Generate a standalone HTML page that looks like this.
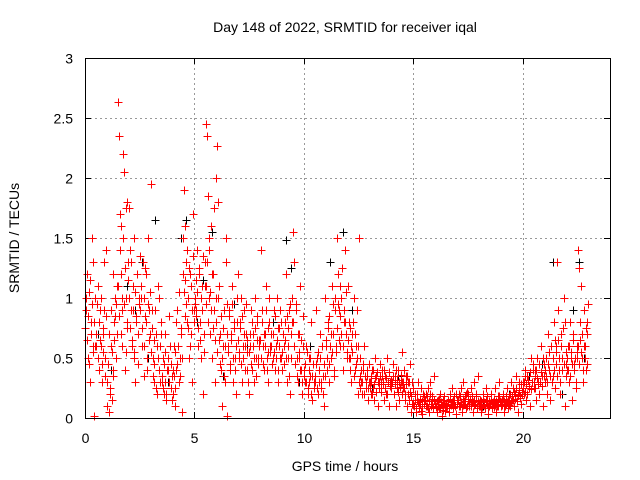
<!DOCTYPE html>
<html><head><meta charset="utf-8"><style>
html,body{margin:0;padding:0;background:#fff}
svg{display:block;font-family:"Liberation Sans",sans-serif}
</style></head><body>
<svg id="chart" width="640" height="480" viewBox="0 0 640 480">
<text x="345" y="32" font-size="14" text-anchor="middle">Day 148 of 2022, SRMTID for receiver iqal</text>
<text x="345" y="471" font-size="14" text-anchor="middle">GPS time / hours</text>
<text transform="translate(19,238) rotate(-90)" font-size="14" text-anchor="middle">SRMTID / TECUs</text>
<g id="grid" shape-rendering="crispEdges"></g>
<g id="ticks" shape-rendering="crispEdges"></g>
<g id="black" shape-rendering="crispEdges"></g>
<g id="red" shape-rendering="crispEdges"></g>
<rect x="85.5" y="58.5" width="525" height="360" fill="none" stroke="#000" stroke-width="1" shape-rendering="crispEdges"/>
</svg>
<script>
const xTicks=[0,5,10,15,20];
const yTicks=[0,0.5,1,1.5,2,2.5,3];
const yTickLabels=["0","0.5","1","1.5","2","2.5","3"];
const binStarts=[0,0.5,1,1.5,2,2.5,3,3.5,4,4.5,5,5.5,6,6.5,7,7.5,8,8.5,9,9.5,10,10.5,11,11.5,12,12.5,13,13.5,14,14.5,15,15.5,16,16.5,17,17.5,18,18.5,19,19.5,20,20.5,21,21.5,22,22.5];
const redValues=[
[.9,1.2,.5,1.05,.3,.8,1.5,.6,.02,1.0],
[.7,1.1,.4,.9,.6,.3,.75,1.3,.5,.85],
[.1,.05,.2,.6,.15,.35,.8,1.0,.5,.7],
[2.63,2.35,1.7,1.2,.9,.6,1.5,2.05,.4,1.0,1.8,.75,1.3],
[1.75,1.4,.9,.6,1.1,.5,.3,.8,1.2,.7,1.0],
[1.35,1.0,.6,.35,1.25,.8,.5,1.5,.9,.7],
[1.95,.9,.5,.3,.7,.2,1.1,.4,.6,.8],
[.3,.5,.2,.7,.15,.4,.85,.6,.25,.35],
[.2,.6,.1,.4,.9,.3,.5,.7,.05,1.5],
[1.9,1.6,1.3,.8,1.0,.5,1.2,.7,.3,1.7,.9],
[1.0,.9,1.4,.6,1.2,.8,.5,1.1,.2,.7,1.3],
[2.45,2.35,1.85,1.4,1.0,.7,1.6,.5,1.2,.9,.3,2.0],
[2.27,1.8,1.1,.7,.4,.1,.6,.9,.3,1.5,.02],
[.6,.9,.4,.7,1.1,.3,.8,.5,.2,1.2],
[.5,.8,1.0,.3,.6,.9,.4,.7,.55,.2],
[.6,.9,.4,.7,.3,1.0,.5,.8,.45,.65],
[1.4,.9,.6,.4,.7,1.1,.5,.3,.8,.55],
[.7,.5,.9,.4,.6,1.0,.3,.75,.5,.8],
[.4,.6,.8,1.2,.3,.5,.9,.2,.7,1.0],
[1.55,1.3,.9,.5,.3,.7,1.1,.4,.2,.6],
[.4,.3,.6,.2,.5,.35,.8,.15,.45,.25],
[.3,.9,.5,.2,.4,.7,.25,.6,.35,.1,1.0],
[.6,.4,.8,.3,.5,1.1,.7,.35,.9,.55],
[1.5,1.2,.9,.6,1.0,.4,.8,1.4,.7,.5],
[1.1,.8,.5,.3,.7,1.0,.4,.6,.9,.2],
[1.5,.5,.3,.2,.4,.6,.25,.35,.15,.45],
[.3,.2,.4,.25,.15,.5,.35,.1,.3,.45],
[.25,.4,.3,.15,.35,.2,.5,.1,.3,.28],
[.3,.45,.2,.35,.1,.25,.4,.15,.3,.55],
[.25,.4,.2,.35,.1,.3,.15,.45,.05,.25],
[.1,.2,.05,.15,.3,.08,.12,.25,.03,.18],
[.15,.2,.1,.25,.05,.3,.12,.18,.08,.35],
[.1,.05,.15,.08,.2,.12,.02,.1,.18,.06],
[.1,.15,.05,.2,.12,.25,.08,.18,.1,.03],
[.15,.2,.1,.25,.05,.3,.12,.18,.08,.22],
[.2,.1,.25,.15,.05,.3,.12,.18,.08,.35],
[.1,.15,.05,.2,.12,.08,.25,.18,.03,.1],
[.12,.2,.08,.15,.25,.05,.1,.18,.3,.14],
[.1,.15,.2,.05,.12,.25,.08,.18,.1,.3],
[.15,.25,.1,.2,.35,.05,.3,.18,.12,.22],
[.3,.2,.4,.15,.35,.25,.1,.5,.3,.45],
[.25,.4,.15,.5,.3,.2,.6,.35,.1,.45],
[.3,.5,.2,.7,.4,.15,.6,.35,.8,.25],
[.6,1.3,.9,.4,.2,.7,.5,1.0,.1,.35],
[.4,.6,.3,.8,.5,.15,.7,.45,.25,.55],
[1.4,1.25,.8,1.1,.5,.3,.9,.6,.4,.7,.95]
];
const redValues2=[
[.75,1.0,.65,.85,.45,1.15,.7,.95,.55,1.3,.8,.6],
[.6,.95,.5,.8,.65,1.0,.45,.7,.55,.9,.35,1.4],
[.3,.45,.7,.25,.9,.55,1.2,.4,.65,.85,.95,1.1],
[1.1,.85,1.4,.7,1.6,1.0,2.2,.95,1.25,.55,1.75,.8,1.15],
[1.0,.75,1.3,.65,.9,1.5,.55,1.05,.85,1.2,.45,.95],
[.9,1.1,.75,1.3,.6,1.0,.85,1.2,.4,.95,.65,1.05],
[.55,.75,.35,.65,.45,.9,.25,.6,.5,1.0,.3,.7],
[.35,.25,.45,.3,.55,.2,.4,.5,.3,.6,.45,.15],
[.4,.35,.55,.25,.8,.45,.6,1.05,.35,.75,.5,1.2],
[1.05,.85,1.15,.95,1.4,.75,1.25,.6,1.1,.9,1.35,.8],
[.95,1.15,.85,1.05,.75,1.25,.65,1.0,.9,1.35,.55,1.1],
[1.1,.95,1.3,.8,1.5,1.05,.9,1.2,.75,1.75,.65,1.0],
[.8,.55,1.0,.65,.45,.85,.5,.75,.35,.6,1.3,.95],
[.7,.55,.85,.45,.65,.95,.5,.75,.4,.6,.8,1.0],
[.65,.55,.75,.45,.85,.5,.7,.6,.95,.4,.65,.3],
[.55,.7,.45,.8,.6,.5,.75,.35,.65,.85,.5,.6],
[.65,.5,.8,.45,.7,.6,.9,.4,.75,.55,1.0,.6],
[.6,.45,.7,.55,.85,.5,.65,.4,.75,.6,.9,.5],
[.55,.7,.45,.65,.5,.85,.6,.75,.35,.95,.5,.8],
[.8,.6,.45,.95,.35,.7,.55,.5,.4,.65,.3,.85],
[.35,.45,.3,.55,.25,.4,.3,.5,.2,.35,.45,.3],
[.35,.45,.25,.55,.3,.4,.5,.3,.6,.2,.45,.35],
[.65,.5,.75,.45,.85,.6,.7,.55,.95,.4,1.0,.6],
[.75,.95,.65,1.1,.85,.7,1.25,.6,.9,.8,1.05,.55],
[.65,.5,.75,.4,.6,.55,.8,.35,.7,.45,.5,.6],
[.3,.35,.25,.4,.3,.45,.2,.35,.3,.4,.25,.3],
[.25,.35,.3,.2,.4,.28,.33,.22,.38,.3,.25,.35],
[.3,.22,.35,.28,.4,.25,.33,.2,.3,.38,.27,.32],
[.25,.3,.35,.2,.28,.4,.32,.22,.3,.26,.36,.3],
[.2,.3,.25,.15,.28,.35,.2,.3,.22,.18,.3,.12],
[.12,.1,.15,.08,.2,.13,.1,.16,.06,.14,.1,.2],
[.12,.15,.1,.18,.08,.14,.2,.1,.16,.12,.09,.15],
[.12,.09,.14,.1,.16,.08,.13,.11,.15,.07,.12,.1],
[.12,.1,.14,.08,.16,.11,.13,.09,.15,.12,.1,.2],
[.12,.15,.1,.18,.13,.09,.16,.11,.14,.12,.2,.1],
[.14,.12,.16,.1,.18,.13,.11,.15,.12,.2,.1,.14],
[.12,.1,.14,.09,.16,.11,.13,.08,.15,.12,.1,.14],
[.12,.15,.1,.13,.09,.16,.11,.14,.12,.1,.18,.13],
[.13,.11,.16,.12,.14,.1,.18,.13,.15,.11,.2,.14],
[.18,.15,.22,.16,.2,.25,.14,.19,.23,.17,.28,.2],
[.25,.3,.22,.35,.28,.2,.32,.27,.38,.24,.3,.4],
[.3,.35,.25,.4,.33,.28,.45,.3,.38,.27,.5,.35],
[.4,.35,.5,.3,.45,.55,.35,.6,.3,.5,.4,.65],
[.45,.55,.35,.65,.5,.3,.6,.4,.75,.45,.8,.55],
[.45,.5,.4,.6,.35,.55,.45,.65,.4,.5,.3,.6],
[.5,.6,.45,.65,.55,.7,.4,.6,.5,.75,.45,.8]
];
const blackTimes=[0.3,0.6,1.2,1.9,2.3,2.6,2.9,3.2,3.8,4.4,4.6,5.1,5.4,5.8,6.3,6.8,7.4,7.9,8.6,9.2,9.4,9.8,10.3,10.6,11.2,11.8,12.2,13.1,14.3,15.6,16.8,18.2,19.4,20.3,20.9,21.4,21.8,22.3,22.6,22.8];
const blackValues=[1.5,0.7,0.4,1.1,0.9,1.3,0.5,1.65,0.3,1.5,1.65,0.8,1.15,1.55,0.35,0.95,0.6,0.45,0.8,1.48,1.25,0.3,0.6,0.5,1.3,1.55,0.9,0.25,0.35,0.1,0.15,0.1,0.2,0.35,0.45,1.3,0.2,0.9,1.3,0.5];
const NS="http://www.w3.org/2000/svg";
const L=85,R=610,T=58,B=418,XMAX=24,YMAX=3;
function xs(t){return L+(t/XMAX)*(R-L);}
function ys(v){return B-(v/YMAX)*(B-T);}
const grid=document.getElementById('grid'),ticks=document.getElementById('ticks');
function line(p,x1,y1,x2,y2,st,dash){const l=document.createElementNS(NS,'line');l.setAttribute('x1',x1);l.setAttribute('y1',y1);l.setAttribute('x2',x2);l.setAttribute('y2',y2);l.setAttribute('stroke',st);if(dash)l.setAttribute('stroke-dasharray',dash);p.appendChild(l);return l;}
function text(p,x,y,s,anchor){const t=document.createElementNS(NS,'text');t.setAttribute('x',x);t.setAttribute('y',y);t.setAttribute('font-size','14');t.setAttribute('text-anchor',anchor);t.textContent=s;p.appendChild(t);return t;}
xTicks.forEach(v=>{const x=Math.round(xs(v))+0.5;
 if(v>0){const g=line(grid,x,T,x,B,'#999','2,3');}
 const a=line(ticks,x,B,x,B-6,'#000');
 const b=line(ticks,x,T,x,T+6,'#000');
 const t=text(ticks,x,443,String(v),'middle');});
yTicks.forEach((v,i)=>{const y=Math.round(ys(v))+0.5;
 if(v>0&&v<YMAX){const g=line(grid,L,y,R,y,'#999','2,3');}
 const a=line(ticks,L,y,L+6,y,'#000');
 const b=line(ticks,R,y,R-6,y,'#000');
 const t=text(ticks,L-12,y+5,yTickLabels[i],'end');});
function cross(p,t,v,col){const x=Math.round(xs(t))+0.5,y=Math.round(ys(v))+0.5;const path=document.createElementNS(NS,'path');
 path.setAttribute('d','M'+(x-4)+' '+y+'H'+(x+4)+'M'+x+' '+(y-4)+'V'+(y+4));
 path.setAttribute('stroke',col);path.setAttribute('stroke-width','1');
 
 
 p.appendChild(path);}
const blackG=document.getElementById('black'),redG=document.getElementById('red');
blackTimes.forEach((t,i)=>cross(blackG,t,blackValues[i],'#000'));
binStarts.forEach((h,b)=>{const vals=redValues[b];vals.forEach((v,i)=>cross(redG,h+(i+0.5)*0.5/vals.length,v,'#f00'));
 const v2=redValues2[b];v2.forEach((v,i)=>cross(redG,h+(i+0.25)*0.5/v2.length,v,'#f00'));});
</script>
</body></html>
